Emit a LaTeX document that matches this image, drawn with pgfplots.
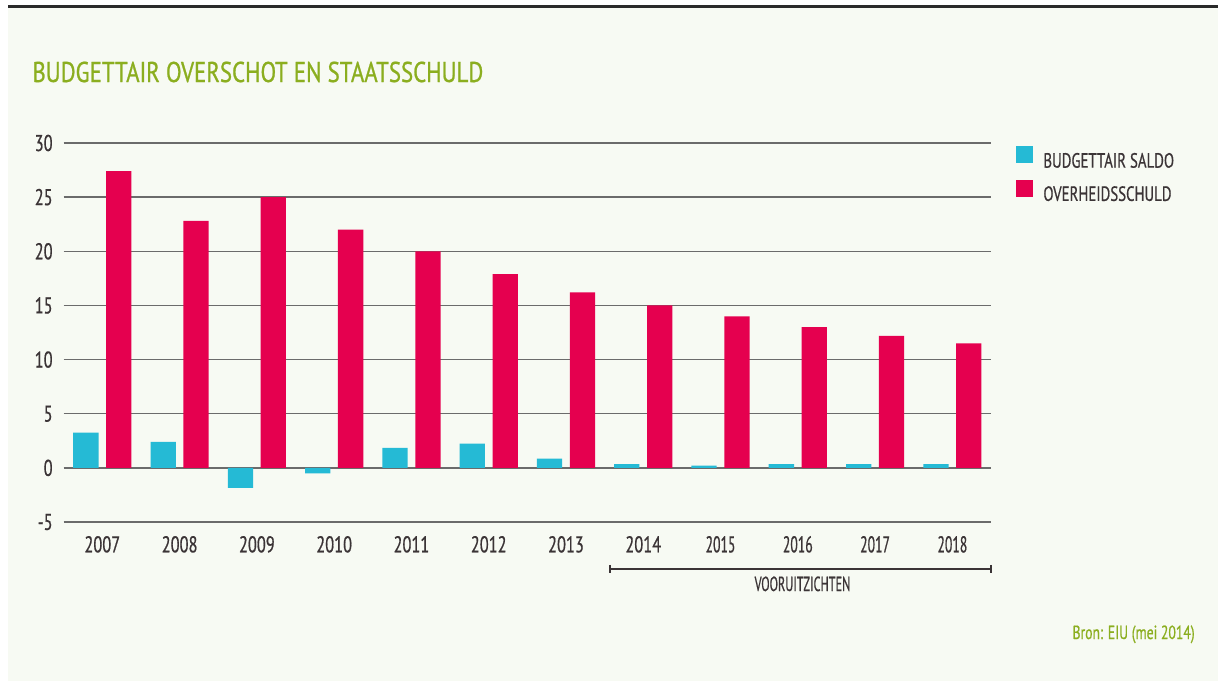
\documentclass[border=0pt]{standalone}
\usepackage{fontspec}
\setmainfont[FakeStretch=0.72, FakeBold=0.6]{PT Sans}
\newfontfamily\narrowfont[FakeStretch=0.6, FakeBold=0.6]{PT Sans}
\newfontfamily\titlefont[FakeStretch=0.8, FakeBold=0.8]{PT Sans}
\usepackage{pgfplots}
\pgfplotsset{compat=1.18}

\definecolor{bg}{HTML}{F7FAF3}
\definecolor{topline}{HTML}{2A2A2A}
\definecolor{titlegreen}{HTML}{8BAE1F}
\definecolor{textdark}{HTML}{3B3436}
\definecolor{gridgray}{HTML}{6B6B6B}
\definecolor{saldo}{HTML}{25BAD5}
\definecolor{schuld}{HTML}{E5004F}

\begin{document}
\begin{tikzpicture}
\useasboundingbox (0,0) rectangle (609pt,-340.5pt);
\fill[bg] (4pt,-4pt) rectangle (609pt,-340.5pt);
\draw[line width=1.4pt, topline] (4pt,-3.3pt) -- (609pt,-3.3pt);
\node[anchor=base west, inner sep=0pt, text=titlegreen, font=\titlefont\fontsize{14.3}{15}\selectfont]
  at (16pt,-41pt) {BUDGETTAIR OVERSCHOT EN STAATSSCHULD};

\begin{axis}[
  at={(31.85pt,-261pt)}, anchor=south west,
  scale only axis, width=463.65pt, height=189.5pt,
  xmin=-0.5, xmax=11.5, ymin=-5, ymax=30,
  xtick={0,...,11},
  xticklabels={2007,2008,2009,2010,2011,2012,2013,2014,
    {\narrowfont 2015},{\narrowfont 2016},{\narrowfont 2017},{\narrowfont 2018}},
  ytick={-5,0,5,10,15,20,25,30},
  yticklabels={-5,0,5,10,15,20,25,30},
  axis line style={draw=none}, major tick length=0pt,
  ymajorgrids, grid style={gridgray, line width=0.75pt},
  ticklabel style={font=\fontsize{11.4}{12}\selectfont, text=textdark},
  xticklabel style={yshift=-3.5pt}, yticklabel style={xshift=-2pt},
  ybar, bar width=0.327,
  legend cell align=left,
  legend style={at={(1,1)}, anchor=north west, xshift=12.5pt, yshift=-1.5pt,
    draw=none, fill=none, inner sep=0pt, row sep=4.5pt,
    font=\fontsize{10.3}{10.5}\selectfont, text=textdark,
    nodes={inner sep=0pt},
    /tikz/every odd column/.append style={column sep=5pt}},
]
\addplot[fill=saldo, draw=none, bar shift=-0.213,
  legend image code/.code={\fill[saldo] (0pt,-0.8pt) rectangle (8.5pt,7.7pt);}]
  coordinates {(0,3.25)(1,2.4)(2,-1.85)(3,-0.5)(4,1.85)(5,2.25)(6,0.85)(7,0.35)(8,0.2)(9,0.35)(10,0.35)(11,0.35)};
\addlegendentry{BUDGETTAIR SALDO}
\addplot[fill=schuld, draw=none, bar shift=0.213,
  legend image code/.code={\fill[schuld] (0pt,-0.8pt) rectangle (8.5pt,7.7pt);}]
  coordinates {(0,27.4)(1,22.8)(2,25.0)(3,22.0)(4,20.0)(5,17.9)(6,16.2)(7,15.0)(8,14.0)(9,13.0)(10,12.2)(11,11.5)};
\addlegendentry{OVERHEIDSSCHULD}
\end{axis}

\draw[line width=0.75pt, textdark] (305pt,-284.5pt) -- (495.5pt,-284.5pt);
\draw[line width=0.9pt, textdark] (305pt,-282.4pt) -- (305pt,-286.6pt);
\draw[line width=0.9pt, textdark] (495.5pt,-282.4pt) -- (495.5pt,-286.6pt);
\node[anchor=base, inner sep=0pt, text=textdark, font=\narrowfont\fontsize{10.2}{11}\selectfont]
  at (401.25pt,-295.5pt) {VOORUITZICHTEN};
\node[anchor=base east, inner sep=0pt, text=titlegreen, font=\fontsize{9.5}{10}\selectfont]
  at (597.5pt,-319.5pt) {Bron: EIU (mei 2014)};
\end{tikzpicture}
\end{document}
